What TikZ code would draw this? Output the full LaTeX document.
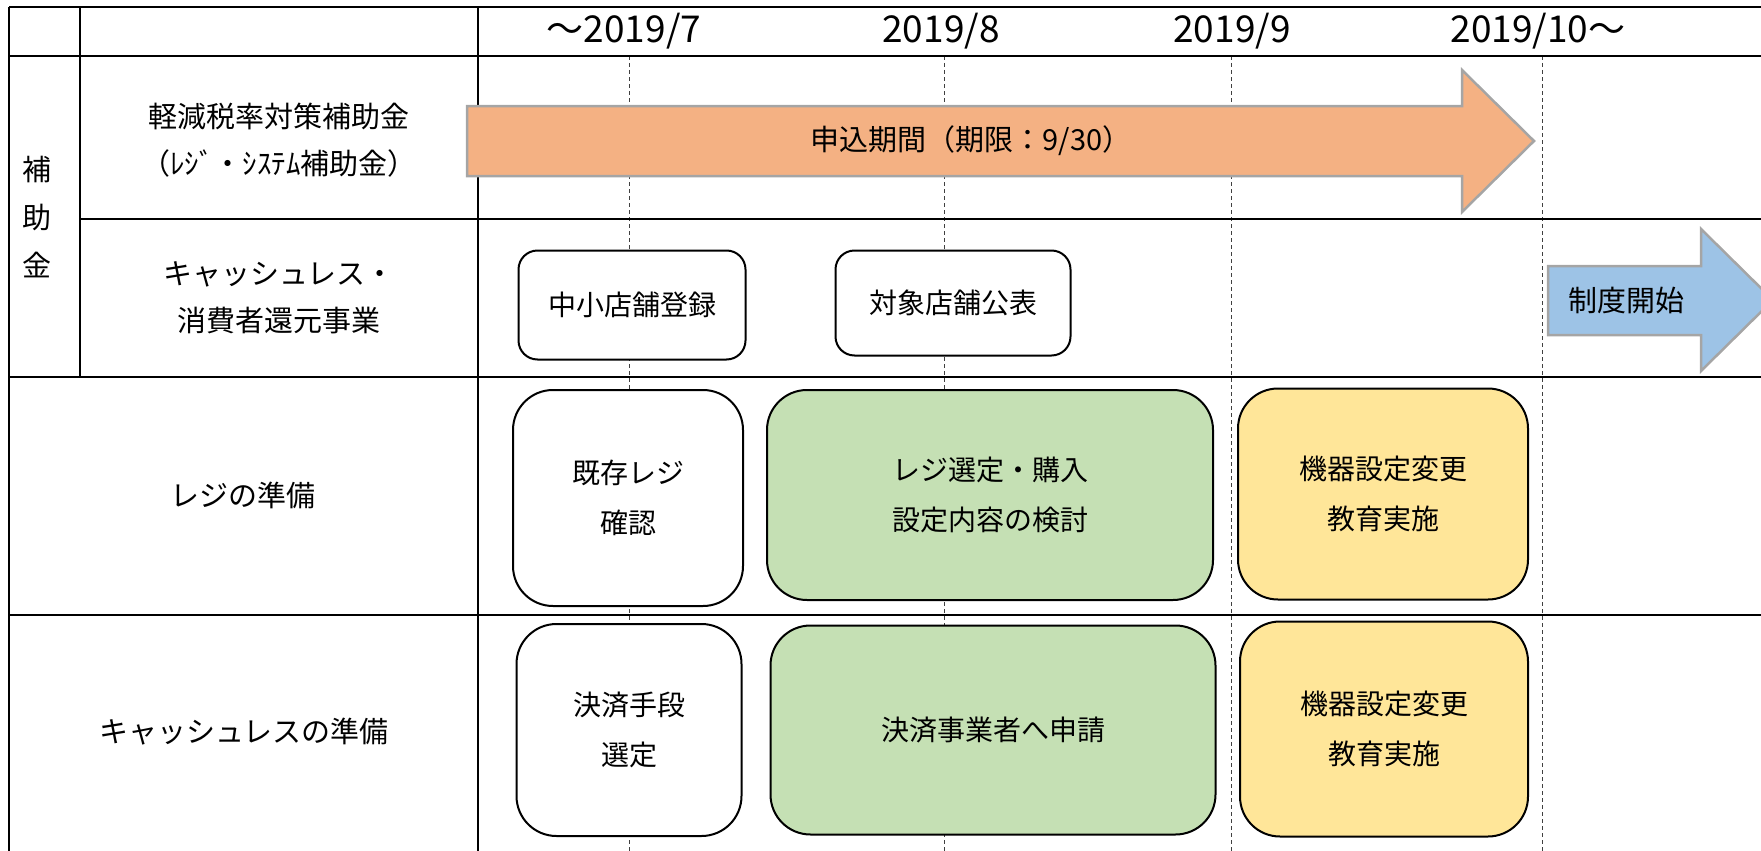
\documentclass[tikz,border=0pt]{standalone}
\usepackage{fontspec}
\setmainfont{Noto Sans CJK JP}
\definecolor{applyorange}{HTML}{F4B183}
\definecolor{startblue}{HTML}{9DC3E6}
\definecolor{plangreen}{HTML}{C5E0B4}
\definecolor{setupyellow}{HTML}{FFE699}
\definecolor{arrowgray}{HTML}{A5A5A5}
\begin{document}
\begin{tikzpicture}[x=1pt, y=-1pt, font=\fontsize{29}{47}\selectfont,
    frame/.style={line width=2pt},
    guide/.style={line width=0.9pt, black!75, dash pattern=on 4pt off 3pt},
    band/.style={draw=arrowgray, line width=2.5pt, line join=miter},
    month/.style={font=\fontsize{37}{40}\selectfont},
    task/.style={draw, line width=2pt, align=center, inner sep=0pt, font=\fontsize{28}{50}\selectfont},
    smalltask/.style={task, fill=white, rounded corners=19pt},
    bigtask/.style={task, rounded corners=40pt}]
        \useasboundingbox (0,0) rectangle (1761,851);

        \foreach \x in {629,944,1231,1542}
            \draw[guide] (\x,56) -- (\x,851);

        \draw[frame] (9,7) -- (1761,7);
        \draw[frame] (9,56) -- (1761,56);
        \draw[frame] (80,219) -- (1761,219);
        \draw[frame] (9,377) -- (1761,377);
        \draw[frame] (9,615) -- (1761,615);
        \draw[frame] (9,7) -- (9,851);
        \draw[frame] (80,7) -- (80,377);
        \draw[frame] (478,7) -- (478,851);

        \node[month] (jul) at (624,31) {〜2019/7};
        \node[month] (aug) at (941,31) {2019/8};
        \node[month] (sep) at (1232,31) {2019/9};
        \node[month] (oct) at (1538,31) {2019/10〜};

        \node[align=center, font=\fontsize{29}{48}\selectfont] (grant) at (37,217) {補\\助\\金};
        \node[align=center] (reduced) at (279,140) {軽減税率対策補助金\\（ﾚｼﾞ・ｼｽﾃﾑ補助金）};
        \node[align=center] (cashless) at (279,298) {キャッシュレス・\\消費者還元事業};
        \node (register) at (243,495) {レジの準備};
        \node (payment) at (244,732) {キャッシュレスの準備};

        \draw[band, fill=applyorange] (467,106) -- (1462,106) -- (1462,70) -- (1534,141)
            -- (1462,212) -- (1462,176) -- (467,176) -- cycle;
        \node (apply) at (971,141) {申込期間（期限：9/30）};

        \draw[band, fill=startblue] (1548,266) -- (1701,266) -- (1701,229) -- (1773,300)
            -- (1701,371) -- (1701,335) -- (1548,335) -- cycle;
        \node (start) at (1626,301) {制度開始};

        \node[smalltask, minimum width=227pt, minimum height=109pt] (shop) at (632,305) {中小店舗登録};
        \node[smalltask, minimum width=235pt, minimum height=105pt] (publish) at (953,303) {対象店舗公表};

        \node[bigtask, fill=white, minimum width=230pt, minimum height=216pt] (check) at (628,498) {既存レジ\\確認};
        \node[bigtask, fill=plangreen, minimum width=446pt, minimum height=210pt] (select) at (990,495) {レジ選定・購入\\設定内容の検討};
        \node[bigtask, fill=setupyellow, minimum width=290pt, minimum height=211pt] (setupa) at (1383,494) {機器設定変更\\教育実施};

        \node[bigtask, fill=white, minimum width=225pt, minimum height=212pt] (method) at (629,730) {決済手段\\選定};
        \node[bigtask, fill=plangreen, minimum width=445pt, minimum height=209pt] (request) at (993,730) {決済事業者へ申請};
        \node[bigtask, fill=setupyellow, minimum width=288pt, minimum height=215pt] (setupb) at (1384,729) {機器設定変更\\教育実施};
\end{tikzpicture}
\end{document}
